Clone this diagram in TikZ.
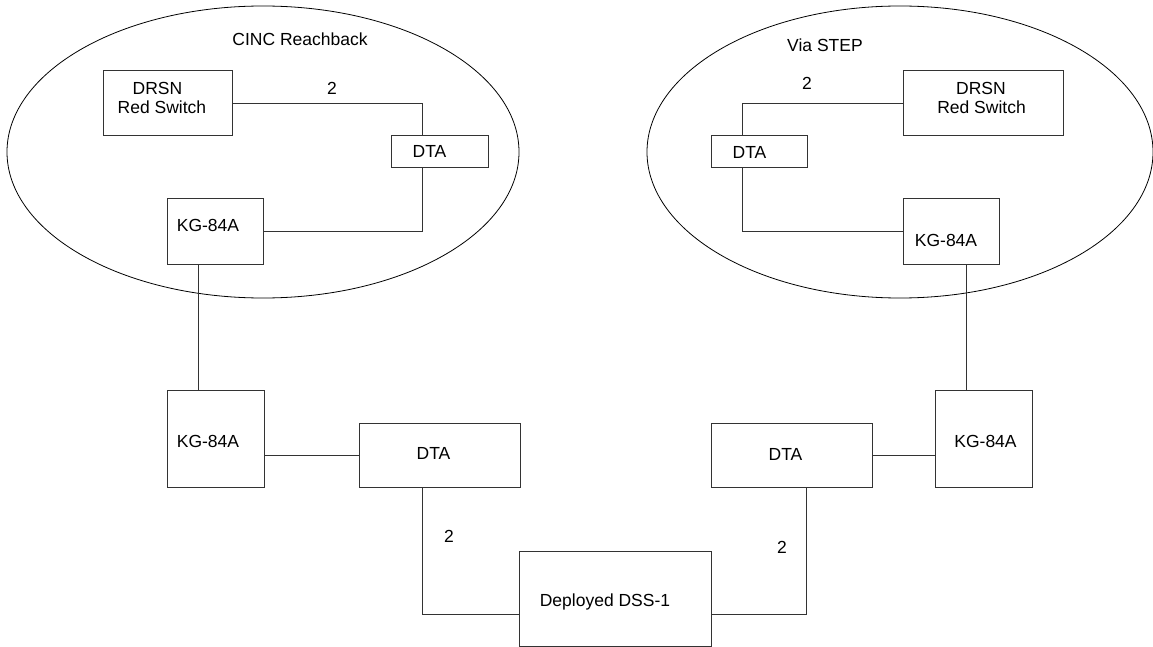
\documentclass[tikz,border=0pt]{standalone}
\usepackage{fontspec}
\setmainfont{Liberation Sans}
\usetikzlibrary{shapes.geometric}
\begin{document}
\begin{tikzpicture}[x=1pt,y=-1pt,
  box/.style={draw=black!80, line width=1pt, inner sep=0pt, rectangle},
  zone/.style={draw=black, line width=0.8pt, ellipse, inner sep=0pt},
  txt/.style={inner sep=0pt, anchor=base, font=\fontsize{17.5}{20}\selectfont},
  wire/.style={draw=black!80, line width=1pt}]
\useasboundingbox (0,0) rectangle (1153,647);

% enclaves
\node[zone, minimum width=512pt, minimum height=292pt] (lzone) at (263,152) {};
\node[zone, minimum width=506pt, minimum height=292pt] (rzone) at (900,152) {};
\node[txt] (ltitle) at (300,46) {CINC Reachback};
\node[txt] (rtitle) at (825,52) {Via STEP};

% left enclave equipment
\node[box, minimum width=129pt, minimum height=65pt] (ldrsn) at (167.5,103.5) {};
\node[box, minimum width=97pt,  minimum height=32pt] (ldta)  at (439.5,152) {};
\node[box, minimum width=96pt,  minimum height=65pt] (lkg)   at (215,231.5) {};
% right enclave equipment
\node[box, minimum width=160pt, minimum height=65pt] (rdrsn) at (983,103.5) {};
\node[box, minimum width=96pt,  minimum height=32pt] (rdta)  at (759,152) {};
\node[box, minimum width=96pt,  minimum height=65pt] (rkg)   at (951,231.5) {};
% deployed side
\node[box, minimum width=97pt,  minimum height=97pt] (lkg2)  at (215.5,438.5) {};
\node[box, minimum width=161pt, minimum height=64pt] (ldta2) at (439.5,455) {};
\node[box, minimum width=192pt, minimum height=95pt] (dss)   at (615,598.5) {};
\node[box, minimum width=161pt, minimum height=64pt] (rdta2) at (791.5,455) {};
\node[box, minimum width=97pt,  minimum height=97pt] (rkg2)  at (983.5,438.5) {};

% box texts
\node[txt] (ldrsnA) at (157.5,95) {DRSN};
\node[txt] (ldrsnB) at (162,114) {Red Switch};
\node[txt] (ldtaT)  at (429.5,158) {DTA};
\node[txt] (lkgT)   at (208,231) {KG-84A};
\node[txt] (rdrsnA) at (981,95) {DRSN};
\node[txt] (rdrsnB) at (981.5,114) {Red Switch};
\node[txt] (rdtaT)  at (749.5,158.5) {DTA};
\node[txt] (rkgT)   at (946,246) {KG-84A};
\node[txt] (lkg2T)  at (208,447) {KG-84A};
\node[txt] (ldta2T) at (433.5,459.5) {DTA};
\node[txt] (dssT)   at (605,606) {Deployed DSS-1};
\node[txt] (rdta2T) at (785.5,460) {DTA};
\node[txt] (rkg2T)  at (985.5,447) {KG-84A};

% link counts
\node[txt] (n1) at (332,95) {2};
\node[txt] (n2) at (807,90) {2};
\node[txt] (n3) at (449,542) {2};
\node[txt] (n4) at (782,553) {2};

% left enclave wiring
\draw[wire] (ldrsn.east) -| ([xshift=32pt]ldta.north west);
\draw[wire] ([xshift=32pt]ldta.south west) |- (lkg.east);
\draw[wire] ([xshift=32pt]lkg.south west) -- ([xshift=32pt]lkg2.north west);
% right enclave wiring
\draw[wire] (rdrsn.west) -| ([xshift=32pt]rdta.north west);
\draw[wire] ([xshift=32pt]rdta.south west) |- (rkg.west);
\draw[wire] ([xshift=64pt]rkg.south west) -- ([xshift=32pt]rkg2.north west);
% deployed wiring
\draw[wire] (lkg2.east |- ldta2.west) -- (ldta2.west);
\draw[wire] ([xshift=64pt]ldta2.south west) |- ([yshift=-15.5pt]dss.west);
\draw[wire] ([yshift=-15.5pt]dss.east) -| ([xshift=96pt]rdta2.south west);
\draw[wire] (rdta2.east) -- (rkg2.west |- rdta2.east);
\end{tikzpicture}
\end{document}
